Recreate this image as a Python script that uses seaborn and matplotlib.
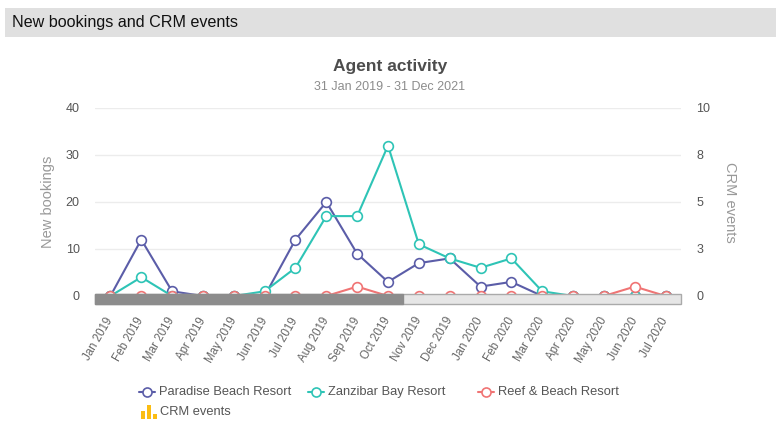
import pandas as pd
import matplotlib.pyplot as plt
import seaborn as sns
from matplotlib.patches import Rectangle
from matplotlib.lines import Line2D

sns.set_theme(style="white")
plt.rcParams["font.family"] = ["Liberation Sans", "DejaVu Sans"]

# Data
months = ["Jan 2019", "Feb 2019", "Mar 2019", "Apr 2019", "May 2019", "Jun 2019",
          "Jul 2019", "Aug 2019", "Sep 2019", "Oct 2019", "Nov 2019", "Dec 2019",
          "Jan 2020", "Feb 2020", "Mar 2020", "Apr 2020", "May 2020", "Jun 2020",
          "Jul 2020"]
paradise = [0, 12, 1, 0, 0, 0, 12, 20, 9, 3, 7, 8, 2, 3, 0, 0, 0, 0, 0]
zanzibar = [0, 4, 0, 0, 0, 1, 6, 17, 17, 32, 11, 8, 6, 8, 1, 0, 0, 0, 0]
reef = [0, 0, 0, 0, 0, 0, 0, 0, 2, 0, 0, 0, 0, 0, 0, 0, 0, 2, 0]
crm_events = [0, 0, 0, 0, 0, 0, 0, 0, 0, 0, 0, 0, 0, 0, 0, 0, 0, 0, 0]

left_ticks = [0, 10, 20, 30, 40]
right_ticks = [0, 2.5, 5, 7.5, 10]
right_labels = ["0", "3", "5", "8", "10"]

series = {
    "Paradise Beach Resort": (paradise, "#5b5da8"),
    "Zanzibar Bay Resort": (zanzibar, "#2ec4b6"),
    "Reef & Beach Resort": (reef, "#f07474"),
}
crm_color = "#fbbd13"

W, H = 779, 429
fig = plt.figure(figsize=(W / 100, H / 100), dpi=100)


def fx(px):
    return px / W


def fy(py):
    return 1 - py / H


# header band
fig.patches.append(Rectangle((fx(5), fy(37)), fx(771), 29 / H, transform=fig.transFigure,
                             facecolor="#e0e0e0", edgecolor="none", zorder=0))
fig.text(fx(12), fy(22), "New bookings and CRM events", fontsize=11.6, color="#111111",
         va="center", ha="left")
fig.text(fx(390), fy(67), "Agent activity", fontsize=12.5, fontweight="bold",
         color="#4d4d4d", ha="center", va="center")
fig.text(fx(390), fy(87), "31 Jan 2019 - 31 Dec 2021", fontsize=9, color="#8c8c8c",
         ha="center", va="center")

ax = fig.add_axes([fx(95), fy(296), (681 - 95) / W, (296 - 108) / H])
ax2 = ax.twinx()

idx = list(range(len(months)))

# CRM events as bars on the right axis
sns.barplot(x=idx, y=crm_events, native_scale=True, color=crm_color, linewidth=0,
            ax=ax2, zorder=1)

for name, (vals, col) in series.items():
    df = pd.DataFrame({"month": idx, "value": vals})
    sns.lineplot(data=df, x="month", y="value", ax=ax, color=col,
                 linewidth=1.5, marker="o", markersize=7, markerfacecolor="white",
                 markeredgecolor=col, markeredgewidth=1.2, clip_on=False, zorder=3)

ax.set_xlim(-0.5, len(months) - 0.5)
ax.set_ylim(0, 40)
ax.set_yticks(left_ticks)
ax.set_xticks(idx)
ax.set_xticklabels(months, rotation=60, ha="right", va="center", rotation_mode="anchor",
                   fontsize=8.3, color="#666666")
ax.tick_params(axis="x", length=0, pad=16)
ax.tick_params(axis="y", length=0, pad=11, labelsize=9, labelcolor="#555555")
ax.grid(axis="y", color="#ececec", linewidth=1)
ax.set_xlabel("")
ax.set_ylabel("New bookings", fontsize=10.5, color="#999999", labelpad=8)

ax2.set_xlim(-0.5, len(months) - 0.5)
ax2.set_ylim(0, 10)
ax2.set_yticks(right_ticks)
ax2.set_yticklabels(right_labels)
ax2.tick_params(axis="y", length=0, pad=11, labelsize=9, labelcolor="#555555")
ax2.set_xlabel("")
ax2.set_ylabel("CRM events", fontsize=10.5, color="#999999", rotation=270, labelpad=19)
ax2.grid(False)

for a in (ax, ax2):
    for s in a.spines.values():
        s.set_visible(False)

# scrollbar under the plot area
ax2.add_patch(Rectangle((0, -8 / 188), 1, 10 / 188, transform=ax2.transAxes,
                        facecolor="#e6e6e6", edgecolor="#aaaaaa", linewidth=1,
                        clip_on=False, zorder=10))
ax2.add_patch(Rectangle((0, -8 / 188), (403 - 95) / 586, 10 / 188, transform=ax2.transAxes,
                        facecolor="#8c8c8c", edgecolor="#8c8c8c", linewidth=1,
                        clip_on=False, zorder=11))

# legend
legend_items = [
    ("Paradise Beach Resort", series["Paradise Beach Resort"][1], 147, 392),
    ("Zanzibar Bay Resort", series["Zanzibar Bay Resort"][1], 316, 392),
    ("Reef & Beach Resort", series["Reef & Beach Resort"][1], 486, 392),
]
for label, col, x, y in legend_items:
    fig.add_artist(Line2D([fx(x - 8), fx(x + 8)], [fy(y), fy(y)], transform=fig.transFigure,
                          color=col, linewidth=1.5))
    fig.add_artist(Line2D([fx(x)], [fy(y)], transform=fig.transFigure, color=col,
                          marker="o", markersize=6.5, markerfacecolor="white",
                          markeredgecolor=col, markeredgewidth=1.2))
    fig.text(fx(x + 12), fy(y), label, fontsize=9.3, color="#555555", va="center", ha="left")

for bx, bh in [(141, 8), (147, 14), (153, 5)]:
    fig.patches.append(Rectangle((fx(bx), fy(419)), fx(4), bh / H, transform=fig.transFigure,
                                 facecolor=crm_color, edgecolor="none"))
fig.text(fx(160), fy(412), "CRM events", fontsize=9.3, color="#555555", va="center", ha="left")

fig.savefig("out.png", dpi=100)
